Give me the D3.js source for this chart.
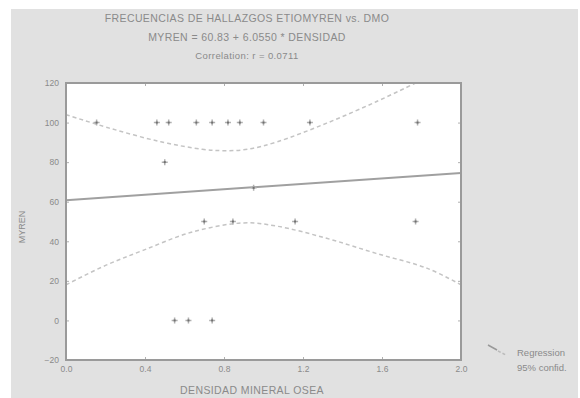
<!DOCTYPE html>
<html>
<head>
<meta charset="utf-8">
<script src="https://cdn.jsdelivr.net/npm/d3@7"></script>
<style>
  body { margin: 0; background: #fff; }
  text { font-family: "Liberation Sans", Arial, sans-serif; fill: #8a8a8a; }
</style>
</head>
<body>
<svg id="chart" width="580" height="398"></svg>
<script>
const titleLines = ["FRECUENCIAS DE HALLAZGOS ETIOMYREN vs. DMO",
    "MYREN = 60.83 + 6.0550 * DENSIDAD",
    "Correlation: r = 0.0711"];

// observed points
const pointsX = [0.155, 0.46, 0.52, 0.66, 0.74, 0.82, 0.88, 1.0, 1.235, 1.78,
    0.50, 0.95,
    0.70, 0.845, 1.16, 1.77,
    0.55, 0.62, 0.74];
const pointsY = [100, 100, 100, 100, 100, 100, 100, 100, 100, 100,
    80, 67,
    50, 50, 50, 50,
    0, 0, 0];

// regression line
const regX = [0, 2];
const regY = [60.8, 74.5];

// 95% confidence bands
const upperX = [0.0, 0.22, 0.48, 0.69, 0.80, 0.92, 1.07, 1.32, 1.57, 1.77];
const upperY = [104, 97.2, 90.3, 86.5, 85.8, 86.5, 90.3, 99.7, 110.5, 120];
const lowerX = [0.0, 0.2, 0.39, 0.64, 0.90, 1.07, 1.32, 1.57, 1.83, 2.0];
const lowerY = [18, 27.8, 35.4, 44.7, 49.3, 47.6, 41.5, 33.9, 26.3, 18];

const xTicks = [0.0, 0.4, 0.8, 1.2, 1.6, 2.0];
const yTicks = [-20, 0, 20, 40, 60, 80, 100, 120];

const svg = d3.select("#chart");
const margin = {left: 66, right: 119, top: 83, bottom: 38};
const W = 580, H = 398;

svg.append("rect").attr("x", 11).attr("y", 9).attr("width", 567).attr("height", 395)
    .attr("fill", "#e1e1e1");

const x = d3.scaleLinear().domain([0, 2]).range([margin.left, W - margin.right]);
const y = d3.scaleLinear().domain([-20, 120]).range([H - margin.bottom, margin.top]);

svg.append("rect")
    .attr("x", x(0)).attr("y", y(120))
    .attr("width", x(2) - x(0)).attr("height", y(-20) - y(120))
    .attr("fill", "#fff");

const plot = svg.append("g");
plot.append("clipPath").attr("id", "clip").append("rect")
    .attr("x", x(0)).attr("y", y(120))
    .attr("width", x(2) - x(0)).attr("height", y(-20) - y(120));

const line = d3.line().x(d => x(d[0])).y(d => y(d[1])).curve(d3.curveCatmullRom);

plot.append("path")
    .attr("d", line(d3.zip(upperX, upperY)))
    .attr("clip-path", "url(#clip)")
    .attr("fill", "none").attr("stroke", "#c4c4c4").attr("stroke-width", 1.5)
    .attr("stroke-dasharray", "4,3");
plot.append("path")
    .attr("d", line(d3.zip(lowerX, lowerY)))
    .attr("clip-path", "url(#clip)")
    .attr("fill", "none").attr("stroke", "#c4c4c4").attr("stroke-width", 1.5)
    .attr("stroke-dasharray", "4,3");

plot.append("path")
    .attr("d", d3.line().x(d => x(d[0])).y(d => y(d[1]))(d3.zip(regX, regY)))
    .attr("fill", "none").attr("stroke", "#a0a0a0").attr("stroke-width", 2);

const pts = plot.selectAll("g.pt").data(d3.zip(pointsX, pointsY)).enter()
    .append("g").attr("class", "pt")
    .attr("transform", d => `translate(${x(d[0])},${y(d[1])})`);
pts.append("path").attr("d", "M-3,0H3M0,-3V3")
    .attr("stroke", "#b0b0b0").attr("stroke-width", 1.5);
pts.append("rect").attr("x", -1).attr("y", -1).attr("width", 2).attr("height", 2)
    .attr("fill", "#707070");

// axes: ticks inside on all four sides
const xAxisB = d3.axisBottom(x).tickValues(xTicks).tickSize(-3).tickPadding(6).tickFormat(d3.format(".1f"));
const xAxisT = d3.axisTop(x).tickValues(xTicks).tickSize(-3).tickFormat("");
const yAxisL = d3.axisLeft(y).tickValues(yTicks).tickSize(-3).tickPadding(7);
const yAxisR = d3.axisRight(y).tickValues(yTicks).tickSize(-3).tickFormat("");

function style(g) {
    g.select(".domain").remove();
    g.selectAll("line").attr("stroke", "#b0b0b0");
    g.selectAll("text").attr("fill", "#8a8a8a").style("font-size", "8.5px");
}
svg.append("g").attr("transform", `translate(0,${y(-20)})`).call(xAxisB).call(style);
svg.append("g").attr("transform", `translate(0,${y(120)})`).call(xAxisT).call(style);
svg.append("g").attr("transform", `translate(${x(0)},0)`).call(yAxisL).call(style);
svg.append("g").attr("transform", `translate(${x(2)},0)`).call(yAxisR).call(style);

// frame
svg.append("rect")
    .attr("x", x(0)).attr("y", y(120))
    .attr("width", x(2) - x(0)).attr("height", y(-20) - y(120))
    .attr("fill", "none").attr("stroke", "#9a9a9a").attr("stroke-width", 2);

// titles
const ty = [22, 41, 59];
titleLines.forEach((t, i) => {
    svg.append("text").attr("x", 247).attr("y", ty[i])
        .attr("text-anchor", "middle")
        .style("font-size", i == 2 ? "9.5px" : "10.5px")
        .style("letter-spacing", "0.4px")
        .text(t);
});

svg.append("text").attr("x", 252).attr("y", 394)
    .attr("text-anchor", "middle").style("font-size", "10.5px")
    .style("letter-spacing", "0.4px")
    .text("DENSIDAD MINERAL OSEA");

svg.append("text")
    .attr("transform", "translate(25,227) rotate(-90)")
    .attr("text-anchor", "middle").style("font-size", "9px")
    .attr("fill", "#666")
    .text("MYREN");

// legend
svg.append("path").attr("d", "M488,345L497,350")
    .attr("stroke", "#999").attr("stroke-width", 1.5);
svg.append("path").attr("d", "M498,351L506,355")
    .attr("stroke", "#bbb").attr("stroke-width", 1.5).attr("stroke-dasharray", "3,2");
svg.append("text").attr("x", 517).attr("y", 356).style("font-size", "9.5px").text("Regression");
svg.append("text").attr("x", 517).attr("y", 371).style("font-size", "9.5px").text("95% confid.");
</script>
</body>
</html>
